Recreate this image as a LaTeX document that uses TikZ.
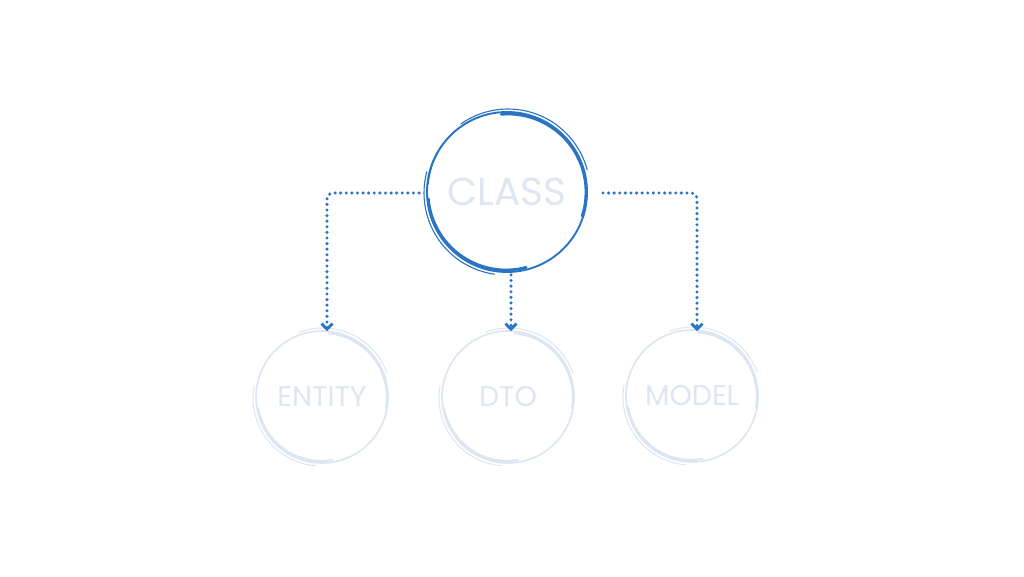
\documentclass[tikz,border=0pt]{standalone}
\usepackage{fontspec}
\setmainfont{Poppins}
\usetikzlibrary{arrows.meta}
\definecolor{dark}{HTML}{2A74C4}
\definecolor{light}{HTML}{DCE5F2}
\definecolor{txt}{HTML}{DEE6F2}
\tikzset{
  bigc/.style={circle, minimum size=160pt, inner sep=0pt, draw=dark, line width=1.9pt, text=txt, font=\fontsize{39}{42}\selectfont},
  smallc/.style={circle, minimum size=132pt, inner sep=0pt, draw=light, line width=1.6pt, text=txt, font=\fontsize{28.5}{32}\selectfont},
  conn/.style={draw=dark, line width=3.4pt, line cap=round, dash pattern=on 0pt off 5.6pt, rounded corners=6pt,
    -{Straight Barb[length=5.5pt,width=11pt,line width=2.8pt]}},
  skd/.style={draw=dark, line cap=round},
  skl/.style={draw=light, line cap=round},
}
\begin{document}
\begin{tikzpicture}[x=1pt,y=1pt]
\fill[white] (0,0) rectangle (1024,576);
\useasboundingbox (0,0) rectangle (1024,576);

% nodes
\node[bigc] (class) at (507,384) {CLASS};
\node[smallc] (entity) at (322,179) {ENTITY};
\node[smallc] (dto) at (508,179) {DTO};
\node[smallc] (model) at (692,180) {MODEL};

% sketch strokes, class
\draw[skd, line width=2.8pt] ([shift={(1,0)}]class.center) ++(95:78pt) arc[start angle=95, end angle=-18, radius=78pt];
\draw[skd, line width=1.1pt] ([shift={(1,1)}]class.center) ++(125:82pt) arc[start angle=125, end angle=15, radius=82pt];
\draw[skd, line width=2.8pt] ([shift={(-1,0)}]class.center) ++(185:78pt) arc[start angle=185, end angle=285, radius=78pt];
\draw[skd, line width=1.1pt] ([shift={(-1,-1)}]class.center) ++(165:82pt) arc[start angle=165, end angle=262, radius=82pt];
\draw[skd, line width=0.9pt] ([shift={(0,1)}]class.center) ++(110:79pt) arc[start angle=110, end angle=175, radius=79pt];

% sketch strokes, small circles
\foreach \n in {entity,dto,model}{
  \draw[skl, line width=2.2pt] ([shift={(1,0)}]\n.center) ++(85:64pt) arc[start angle=85, end angle=-10, radius=64pt];
  \draw[skl, line width=1pt] ([shift={(1,1)}]\n.center) ++(110:68pt) arc[start angle=110, end angle=20, radius=68pt];
  \draw[skl, line width=2.2pt] ([shift={(-1,0)}]\n.center) ++(190:64pt) arc[start angle=190, end angle=280, radius=64pt];
  \draw[skl, line width=1pt] ([shift={(-1,-1)}]\n.center) ++(170:68pt) arc[start angle=170, end angle=265, radius=68pt];
}

% connectors
\coordinate (ls) at ([xshift=-7pt,yshift=-1pt]class.west);
\coordinate (rs) at ([xshift=15pt,yshift=-1pt]class.east);
\coordinate (ms) at ([xshift=4pt,yshift=-2pt]class.south);
\draw[conn] (ls) -| ([xshift=5pt,yshift=-1pt]entity.north);
\draw[conn] (ms) -- ([xshift=3pt,yshift=-1pt]dto.north);
\draw[conn] (rs) -| ([xshift=5pt,yshift=-2pt]model.north);
\end{tikzpicture}
\end{document}
